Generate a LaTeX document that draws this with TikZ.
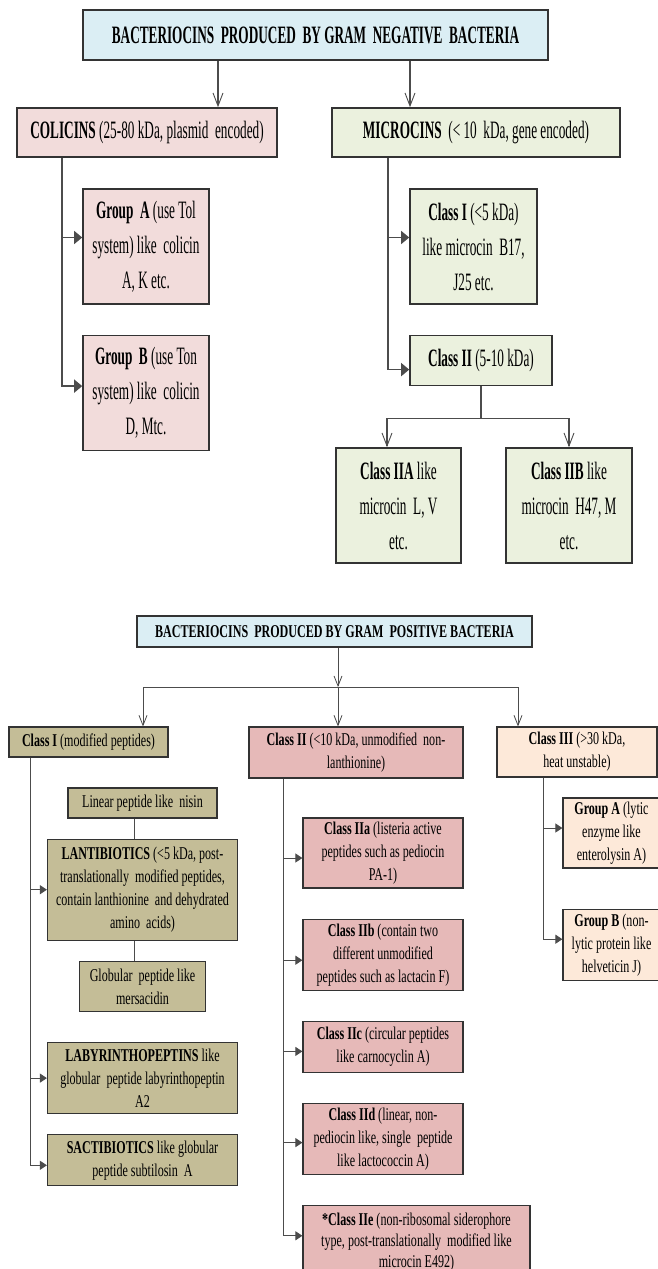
\documentclass[tikz,border=0pt]{standalone}
\usepackage{fontspec}
\setmainfont{Liberation Serif}
\newfontfamily\negfont{Liberation Serif}[FakeStretch=0.53]
\newfontfamily\posfont{Liberation Serif}[FakeStretch=0.67]
\usetikzlibrary{positioning,arrows.meta}

\definecolor{titleblue}{HTML}{DBEEF4}
\definecolor{colpink}{HTML}{F2DCDB}
\definecolor{micgreen}{HTML}{EBF1DE}
\definecolor{khaki}{HTML}{C4BD97}
\definecolor{rosered}{HTML}{E6B9B8}
\definecolor{peach}{HTML}{FDE9D9}

\begin{document}
\begin{tikzpicture}[
      x=1pt, y=-1pt,
      negbox/.style={
        draw=black!80,
        line width=1.6pt,
        inner sep=1pt,
        align=center,
        font=\negfont\fontsize{25}{35}\selectfont
      },
      posbox/.style={
        draw=black!80,
        line width=1.2pt,
        inner sep=1pt,
        align=center,
        font=\posfont\fontsize{18}{23}\selectfont
      },
      link/.style={draw=black!70, line width=1.3pt},
      plink/.style={draw=black!70, line width=1pt},
      openarrow/.style={link, -{Straight Barb[length=13pt,width=10pt,line width=0.9pt]}},
      fillarrow/.style={link, -{Triangle[length=8pt,width=13pt]}},
      popen/.style={plink, -{Straight Barb[length=10pt,width=8pt,line width=0.8pt]}},
      pfill/.style={plink, -{Triangle[length=7pt,width=9pt]}}
    ]
    \fill[white, use as bounding box] (0,0) rectangle (658,1269);

    % Gram negative
    \node[negbox, fill=titleblue, minimum width=465, minimum height=50] (negT) at (315.5,35)
      {\textbf{BACTERIOCINS\ \ PRODUCED\ \ BY GRAM\ \ NEGATIVE\ \ BACTERIA}};
    \node[negbox, fill=colpink, minimum width=260, minimum height=49] (col) at (147,132.5)
      {\textbf{COLICINS} (25-80 kDa, plasmid\ \ encoded)};
    \node[negbox, fill=micgreen, minimum width=288, minimum height=49] (mic) at (476,132.5)
      {\textbf{MICROCINS}\ \ (< 10\ \ kDa, gene encoded)};

    % Colicin groups
    \node[negbox, fill=colpink, minimum width=126, minimum height=115] (grpA) at (146,246.5)
      {\textbf{Group\ \ A} (use Tol\\system) like\ \ colicin\\A, K etc.};
    \node[negbox, fill=colpink, minimum width=126, minimum height=115, below=30pt of grpA] (grpB)
      {\textbf{Group\ \ B} (use Ton\\system) like\ \ colicin\\D, Mtc.};

    % Microcin classes
    \node[negbox, fill=micgreen, minimum width=127, minimum height=115] (micI) at (473.5,246.5)
      {\textbf{Class I} (<5 kDa)\\like microcin\ \ B17,\\J25 etc.};
    \node[negbox, fill=micgreen, minimum width=142, minimum height=50,
          below=30pt of micI.south west, anchor=north west] (micII)
      {\textbf{Class II} (5-10 kDa)};
    \node[negbox, fill=micgreen, minimum width=125, minimum height=115] (micIIA) at (398.5,505.5)
      {\textbf{Class IIA} like\\microcin\ \ L, V\\etc.};
    \node[negbox, fill=micgreen, minimum width=126, minimum height=115] (micIIB) at (569,505.5)
      {\textbf{Class IIB} like\\microcin\ \ H47, M\\etc.};

    % Arrows, gram negative
    \coordinate (colIn) at ([xshift=71]col.north);
    \coordinate (micIn) at ([xshift=-66]mic.north);
    \draw[openarrow] (colIn |- negT.south) -- (colIn);
    \draw[openarrow] (micIn |- negT.south) -- (micIn);
    \draw[fillarrow] ([xshift=-85]col.south) |- ([yshift=9]grpA.west);
    \draw[fillarrow] ([xshift=-85]col.south) |- ([yshift=7]grpB.west);
    \draw[fillarrow] ([xshift=-88]mic.south) |- ([yshift=9]micI.west);
    \draw[fillarrow] ([xshift=-88]mic.south) |- ([yshift=-9]micII.west);
    \draw[openarrow] (micII.south) -- ++(0,32) -| ([xshift=-11.5]micIIA.north);
    \draw[openarrow] (micII.south) -- ++(0,32) -| (micIIB.north);

    % Gram positive
    \node[posbox, fill=titleblue, minimum width=395, minimum height=31] (posT) at (334.5,631.5)
      {\textbf{BACTERIOCINS\ \ PRODUCED BY GRAM\ \ POSITIVE BACTERIA}};
    \node[posbox, fill=khaki, minimum width=159, minimum height=30] (pI) at (88.5,742)
      {\textbf{Class I} (modified peptides)};
    \node[posbox, fill=rosered, minimum width=214, minimum height=51] (pII) at (356,752.5)
      {\textbf{Class II} (<10 kDa, unmodified\ \ non-\\lanthionine)};
    \node[posbox, fill=peach, minimum width=160, minimum height=50] (pIII) at (577,752)
      {\textbf{Class III} (>30 kDa,\\heat unstable)};

    % Class I members
    \node[posbox, fill=khaki, minimum width=149, minimum height=30] (lin) at (142.5,803)
      {Linear peptide like\ \ nisin};
    \node[posbox, fill=khaki, minimum width=190, minimum height=101, below=20pt of lin] (lanti)
      {\textbf{LANTIBIOTICS} (<5 kDa, post-\\translationally\ \ modified peptides,\\contain lanthionine\ \ and dehydrated\\amino\ \ acids)};
    \node[posbox, fill=khaki, minimum width=126, minimum height=50, below=20pt of lanti] (glob)
      {Globular\ \ peptide like\\mersacidin};
    \node[posbox, fill=khaki, minimum width=190, minimum height=71, below=30pt of glob] (laby)
      {\textbf{LABYRINTHOPEPTINS} like\\globular\ \ peptide labyrinthopeptin\\A2};
    \node[posbox, fill=khaki, minimum width=190, minimum height=51, below=20pt of laby] (sact)
      {\textbf{SACTIBIOTICS} like globular\\peptide subtilosin\ \ A};

    % Class II members
    \node[posbox, fill=rosered, minimum width=160, minimum height=70] (IIa) at (383,853)
      {\textbf{Class IIa} (listeria active\\peptides such as pediocin\\PA-1)};
    \node[posbox, fill=rosered, minimum width=160, minimum height=71, below=30pt of IIa] (IIb)
      {\textbf{Class IIb} (contain two\\different unmodified\\peptides such as lactacin F)};
    \node[posbox, fill=rosered, minimum width=160, minimum height=51, below=30pt of IIb] (IIc)
      {\textbf{Class IIc} (circular peptides\\like carnocyclin A)};
    \node[posbox, fill=rosered, minimum width=160, minimum height=71, below=30pt of IIc] (IId)
      {\textbf{Class IId} (linear, non-\\pediocin like, single\ \ peptide\\like lactococcin A)};
    \node[posbox, fill=rosered, minimum width=227, minimum height=72,
          font=\posfont\fontsize{18}{21}\selectfont,
          below=30pt of IId.south west, anchor=north west] (IIe)
      {\textbf{*Class IIe} (non-ribosomal siderophore\\type, post-translationally\ \ modified like\\microcin E492)};

    % Class III members
    \node[posbox, fill=peach, minimum width=97, minimum height=70] (gA) at (611.5,833)
      {\textbf{Group A} (lytic\\enzyme like\\enterolysin A)};
    \node[posbox, fill=peach, minimum width=97, minimum height=71, below=40pt of gA] (gB)
      {\textbf{Group B} (non-\\lytic protein like\\helveticin J)};

    % Arrows, gram positive
    \coordinate (hub) at (338,687);
    \draw[popen] (posT.south -| hub) -- (hub);
    \draw[popen] (hub) -| ([xshift=54.5]pI.north);
    \draw[popen] (hub) -- (pII.north -| hub);
    \draw[popen] (hub) -| ([xshift=-59]pIII.north);

    \coordinate (lantiTop) at ([xshift=-8]lanti.north);
    \coordinate (lantiBot) at ([xshift=-8]lanti.south);
    \draw[plink] (lantiTop) -- (lantiTop |- lin.south);
    \draw[plink] (lantiBot) -- (lantiBot |- glob.north);
    \draw[pfill] ([xshift=-58.5]pI.south) |- (lanti.west);
    \draw[pfill] ([xshift=-58.5]pI.south) |- (laby.west);
    \draw[pfill] ([xshift=-58.5]pI.south) |- ([yshift=-5]sact.west);

    \draw[pfill] ([xshift=-73]pII.south) |- ([yshift=-5]IIa.west);
    \draw[pfill] ([xshift=-73]pII.south) |- ([yshift=-5.5]IIb.west);
    \draw[pfill] ([xshift=-73]pII.south) |- ([yshift=-4.5]IIc.west);
    \draw[pfill] ([xshift=-73]pII.south) |- ([yshift=-3.5]IId.west);
    \draw[pfill] ([xshift=-73]pII.south) |- ([yshift=6]IIe.west);

    \draw[pfill] ([xshift=-34]pIII.south) |- ([yshift=5]gA.west);
    \draw[pfill] ([xshift=-34]pIII.south) |- ([yshift=5.5]gB.west);
  \end{tikzpicture}
\end{document}
